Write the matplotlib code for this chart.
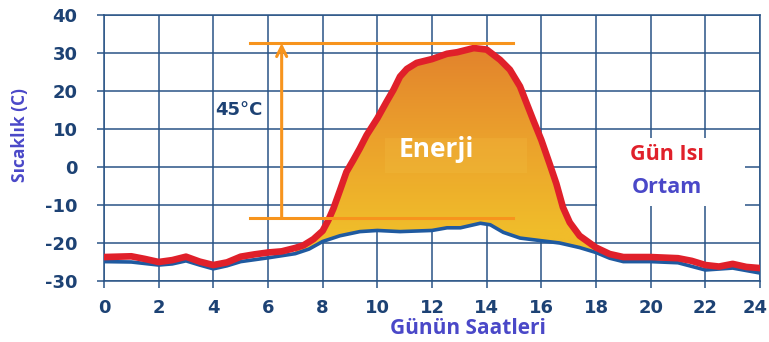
import numpy as np
import matplotlib
matplotlib.use("Agg")
import matplotlib.pyplot as plt
import matplotlib.transforms as mtransforms
from matplotlib.colors import LinearSegmentedColormap

plt.rcParams["axes.unicode_minus"] = False

# "Gün Isı" curve
gun_hours = [0, 0.5, 1, 1.5, 2, 2.5, 3, 3.5, 4, 4.5, 5, 5.5, 6, 6.5, 7, 7.3,
             7.66, 8.0, 8.2, 8.39, 8.63, 8.87, 9.12, 9.36, 9.61, 10.0, 10.34,
             10.59, 10.83, 11.08, 11.44, 12.0, 12.55, 12.92, 13.53, 14.0,
             14.49, 14.85, 15.22, 15.46, 15.7, 16.0, 16.3, 16.55, 16.79, 17.04,
             17.4, 18.0, 18.5, 19, 20, 21, 21.5, 22, 22.5, 23, 23.5, 24]
gun_isi = [-23.7, -23.6, -23.5, -24.2, -25.0, -24.5, -23.6, -24.9, -25.8,
           -25.1, -23.6, -23.0, -22.5, -22.2, -21.3, -20.6, -19.0, -16.8,
           -14.1, -11.0, -6.2, -1.3, 1.8, 4.9, 8.4, 12.8, 17.2, 20.3, 23.8,
           25.8, 27.4, 28.4, 29.8, 30.2, 31.3, 30.9, 28.2, 25.6, 21.2, 16.8,
           12.4, 7.1, 0.9, -4.4, -10.6, -14.6, -18.1, -21.2, -22.9, -23.7,
           -23.7, -24.0, -24.7, -25.8, -26.2, -25.5, -26.3, -26.6]

# "Ortam" curve
ortam_hours = [0, 1, 2, 2.5, 3, 3.5, 4, 4.5, 5, 6, 7, 7.5, 8.0, 8.63, 9.36,
               10.0, 10.83, 12.0, 12.55, 13.04, 13.77, 14.13, 14.61, 15.22,
               16.0, 16.67, 17.4, 18.0, 18.5, 19, 20, 21, 22, 23, 24]
ortam = [-24.9, -25.0, -25.8, -25.5, -24.7, -25.8, -26.8, -26.0, -24.9, -23.9,
         -22.8, -21.6, -19.6, -18.1, -17.0, -16.7, -17.0, -16.7, -16.0, -16.0,
         -14.8, -15.2, -17.2, -18.7, -19.4, -20.0, -21.2, -22.5, -24.0, -24.9,
         -24.9, -25.2, -27.1, -26.6, -27.9]

x_ticks = list(range(0, 25, 2))
y_ticks = list(range(-30, 41, 10))

bar_top, bar_bottom = 32.6, -13.4
bar_x0, bar_x1 = 5.35, 14.95
arrow_x = 6.5

NAVY = "#1d4274"
GRID = "#2a5486"
RED = "#e0202a"
BLUE = "#1f5aa0"
LABEL = "#4a48c8"
ORANGE = "#f7941d"

fig = plt.figure(figsize=(7.69, 3.42), dpi=100)
ax = fig.add_axes([104 / 769, 1 - 281 / 342, 656 / 769, 266 / 342])

xr, yr = np.array(gun_hours), np.array(gun_isi)
xb, yb = np.array(ortam_hours), np.array(ortam)

# gradient "Enerji" area between the two curves
poly = ax.fill(np.r_[xr, xb[::-1]], np.r_[yr, yb[::-1]],
               facecolor="none", edgecolor="none", zorder=2)[0]
cmap = LinearSegmentedColormap.from_list(
    "en", [(0, "#f0bc2a"), (0.12, "#f0bc2a"), (0.55, "#eba12c"), (1, "#e2822d")])
grad = np.linspace(0, 1, 256).reshape(-1, 1)
im = ax.imshow(grad, cmap=cmap, origin="lower", aspect="auto",
               extent=(7.0, 18.5, -23, 32), zorder=2)
im.set_clip_path(poly)
box = ax.add_patch(plt.Rectangle((10.28, -1.6), 5.2, 9.2, fc="#f6c84a",
                                 ec="none", alpha=0.2, zorder=2.5))
box.set_clip_path(poly)

ax.plot(xb, yb, color=BLUE, lw=2.6, zorder=3, solid_capstyle="round",
        solid_joinstyle="round")
ax.plot(xr, yr, color=RED, lw=4.8, zorder=4, solid_capstyle="round",
        solid_joinstyle="round")

# 45 C bracket
ax.plot([bar_x0, bar_x1], [bar_top, bar_top], color=ORANGE, lw=2.2, zorder=5)
ax.plot([bar_x0, bar_x1], [bar_bottom, bar_bottom], color=ORANGE, lw=2.2, zorder=5)
ax.annotate("", xy=(arrow_x, bar_top), xytext=(arrow_x, bar_bottom),
            arrowprops=dict(arrowstyle="->", color=ORANGE, lw=2.2,
                            mutation_scale=18, shrinkA=0, shrinkB=0), zorder=5)
ax.text(4.05, 14.9, "45°C", color=NAVY, fontsize=13, fontweight="bold",
        family="DejaVu Sans", va="center", ha="left", zorder=6)

ax.text(12.15, 4.5, "Enerji", color="white", fontsize=19, fontweight="bold",
        family="Open Sans", ha="center", va="center", zorder=6)

# legend block
ax.add_patch(plt.Rectangle((18.05, -10.3), 5.4, 18.0, fc="white", ec="none", zorder=1.5))
ax.text(20.6, 3.2, "Gün Isı", color=RED, fontsize=15.5, fontweight="bold",
        family="Open Sans", ha="center", va="center", zorder=6)
ax.text(20.6, -5.5, "Ortam", color=LABEL, fontsize=15.5, fontweight="bold",
        family="Open Sans", ha="center", va="center", zorder=6)

ax.set_xlim(0, 24)
ax.set_ylim(-30, 40)
ax.set_xticks(x_ticks)
ax.set_yticks(y_ticks)
ax.grid(True, color=GRID, lw=1.1, zorder=1)
ax.set_axisbelow(True)
for s in ax.spines.values():
    s.set_color(GRID)
    s.set_linewidth(1.1)
    s.set_zorder(1)
ax.tick_params(length=5, width=1.1, color=GRID, labelcolor=NAVY)
ax.tick_params(axis="y", pad=14)
ax.tick_params(axis="x", pad=8)
for lab in ax.get_xticklabels() + ax.get_yticklabels():
    lab.set_fontweight("bold")
    lab.set_fontsize(13)
    lab.set_family("DejaVu Sans")
# last hour label sits right at the figure edge; nudge it inside
last = ax.get_xticklabels()[-1]
last.set_transform(last.get_transform() +
                   mtransforms.ScaledTranslation(-5 / 100, 0, fig.dpi_scale_trans))

fig.text(20 / 769, 1 - 135 / 342, "Sıcaklık (C)", rotation=90, color=LABEL,
         fontsize=12.5, fontweight="bold", family="Open Sans",
         ha="center", va="center")
fig.text(468 / 769, 1 - 329 / 342, "Günün Saatleri", color=LABEL,
         fontsize=15, fontweight="bold", family="Open Sans",
         ha="center", va="center")

fig.savefig("out.png", dpi=100)
